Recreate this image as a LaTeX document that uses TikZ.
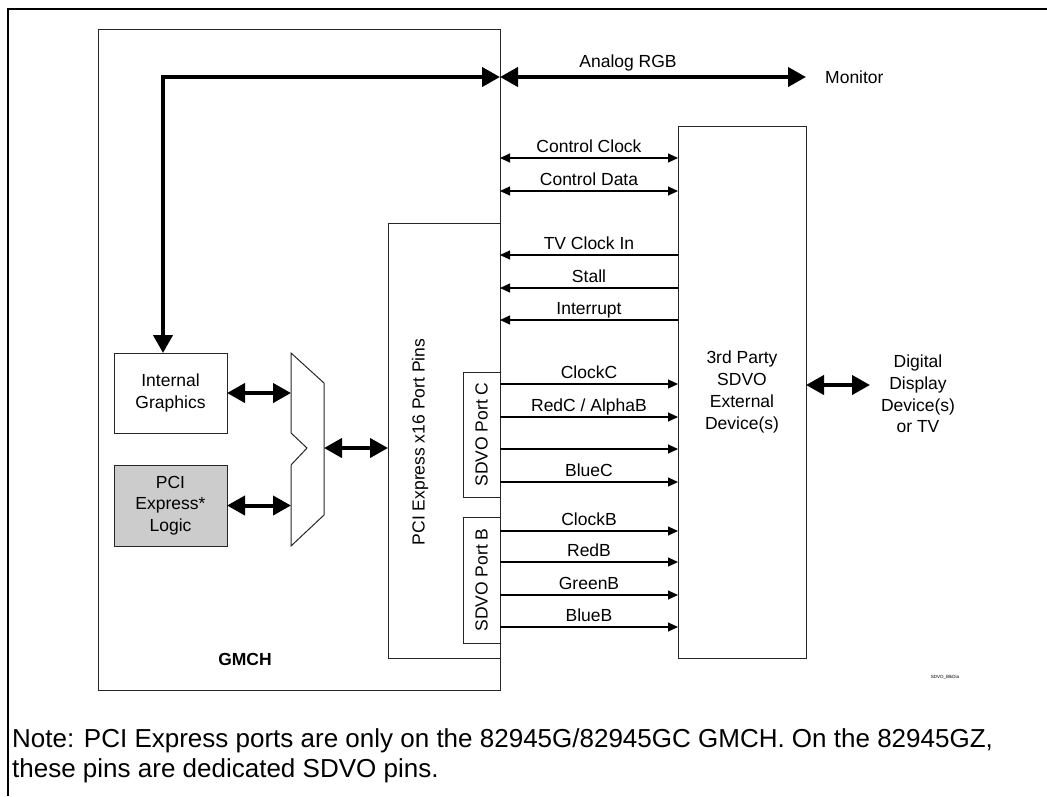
\documentclass[tikz,border=0pt]{standalone}
\usepackage{fontspec}
\setmainfont{Liberation Sans}
\usetikzlibrary{arrows.meta}
\tikzset{
  box/.style={draw=black!85, line width=1pt, inner sep=0pt, outer sep=0pt},
  lab/.style={font=\fontsize{17.5}{21.7}\selectfont, align=center, inner sep=0pt},
  sig/.style={line width=1.1pt},
  sr/.style={sig, -{Triangle[length=10pt,width=9pt]}},
  sb/.style={sig, {Triangle[length=10pt,width=9pt]}-{Triangle[length=10pt,width=9pt]}},
  bus/.style={line width=4pt, {Triangle[length=18pt,width=19pt]}-{Triangle[length=18pt,width=19pt]}},
  siglab/.style={lab, anchor=base, yshift=6pt}
}
\begin{document}
\begin{tikzpicture}[x=1pt,y=-1pt]
\useasboundingbox (0,0) rectangle (1047,796);
% outer frame
\draw[line width=2pt] (8,796) -- (8,9) -- (1047,9);
% blocks
\node[box, minimum width=402pt, minimum height=661pt] (gmch) at (299,359.5) {};
\node[box, minimum width=112pt, minimum height=435pt] (pcie) at (444,440.5) {};
\node[lab, rotate=90] (pcietxt) at (420,442) {PCI Express x16 Port Pins};
\node[box, lab, rotate=90, minimum width=125pt, minimum height=37pt] (portc) at (481.5,434.5) {SDVO Port C};
\node[box, lab, rotate=90, minimum width=126pt, minimum height=37pt] (portb) at (481.5,580) {SDVO Port B};
\node[box, lab, minimum width=128pt, minimum height=532pt] (third) at (742,392) {3rd Party\\SDVO\\External\\Device(s)};
\node[box, lab, minimum width=113pt, minimum height=80pt] (ig) at (170.5,393) {Internal\\Graphics};
\node[box, lab, fill=black!20, minimum width=113pt, minimum height=81pt] (pcil) at (170.5,505.5) {PCI\\Express*\\Logic};
\node[lab, font=\fontsize{17.5}{21.7}\selectfont\bfseries] (gmchlab) at (245,659) {GMCH};
% mux
\coordinate (m1) at (291,353);
\coordinate (m2) at (324,383);
\coordinate (m3) at (324,515);
\coordinate (m4) at (291,546);
\coordinate (m5) at (291,465);
\coordinate (m6) at (307,448);
\coordinate (m7) at (291,433);
\coordinate (mo) at (324,448);
\draw[draw=black!85, line width=1pt] (m1) -- (m2) -- (m3) -- (m4) -- (m5) -- (m6) -- (m7) -- cycle;
% bus arrows
\draw[bus] (ig.east) -- (m1 |- ig.east);
\draw[bus] (pcil.east) -- (m1 |- pcil.east);
\draw[bus] (mo) -- (pcie.west |- mo);
\coordinate (corner) at (163,77);
\draw[bus] (corner -| gmch.east) -- (corner) -- (corner |- ig.north);
\coordinate (mon) at (806,77);
\draw[bus] (corner -| gmch.east) -- (mon);
\node[lab, anchor=base] (argb) at (628,67) {Analog RGB};
\node[lab, anchor=base west] (monitor) at (825,83) {Monitor};
\coordinate (dd) at (870,385);
\draw[bus] (third.east |- dd) -- (dd);
\node[lab] (ddtxt) at (918,394) {Digital\\Display\\Device(s)\\or TV};
% signals
\draw[sb] (gmch.east |- 0,158) -- (third.west |- 0,158) node[midway, siglab] {Control Clock};
\draw[sb] (gmch.east |- 0,191) -- (third.west |- 0,191) node[midway, siglab] {Control Data};
\draw[sr] (third.west |- 0,255) -- (pcie.east |- 0,255) node[midway, siglab] {TV Clock In};
\draw[sr] (third.west |- 0,288) -- (pcie.east |- 0,288) node[midway, siglab] {Stall};
\draw[sr] (third.west |- 0,320) -- (pcie.east |- 0,320) node[midway, siglab] {Interrupt};
\draw[sr] (pcie.east |- 0,384) -- (third.west |- 0,384) node[midway, siglab] {ClockC};
\draw[sr] (pcie.east |- 0,417) -- (third.west |- 0,417) node[midway, siglab] {RedC / AlphaB};
\draw[sr] (pcie.east |- 0,449) -- (third.west |- 0,449);
\draw[sr] (pcie.east |- 0,482) -- (third.west |- 0,482) node[midway, siglab] {BlueC};
\draw[sr] (pcie.east |- 0,531) -- (third.west |- 0,531) node[midway, siglab] {ClockB};
\draw[sr] (pcie.east |- 0,562) -- (third.west |- 0,562) node[midway, siglab] {RedB};
\draw[sr] (pcie.east |- 0,595) -- (third.west |- 0,595) node[midway, siglab] {GreenB};
\draw[sr] (pcie.east |- 0,627) -- (third.west |- 0,627) node[midway, siglab] {BlueB};
% footer
\node[font=\fontsize{4.5}{5}\selectfont, inner sep=0pt] (tag) at (945,677) {SDVO\_BlkDia};
\node[font=\fontsize{26}{30}\selectfont, inner sep=0pt, anchor=base west] (note1) at (12,747) {Note: PCI Express ports are only on the 82945G/82945GC GMCH. On the 82945GZ,};
\node[font=\fontsize{26}{30}\selectfont, inner sep=0pt, anchor=base west] (note2) at (12,777) {these pins are dedicated SDVO pins.};
\end{tikzpicture}
\end{document}
